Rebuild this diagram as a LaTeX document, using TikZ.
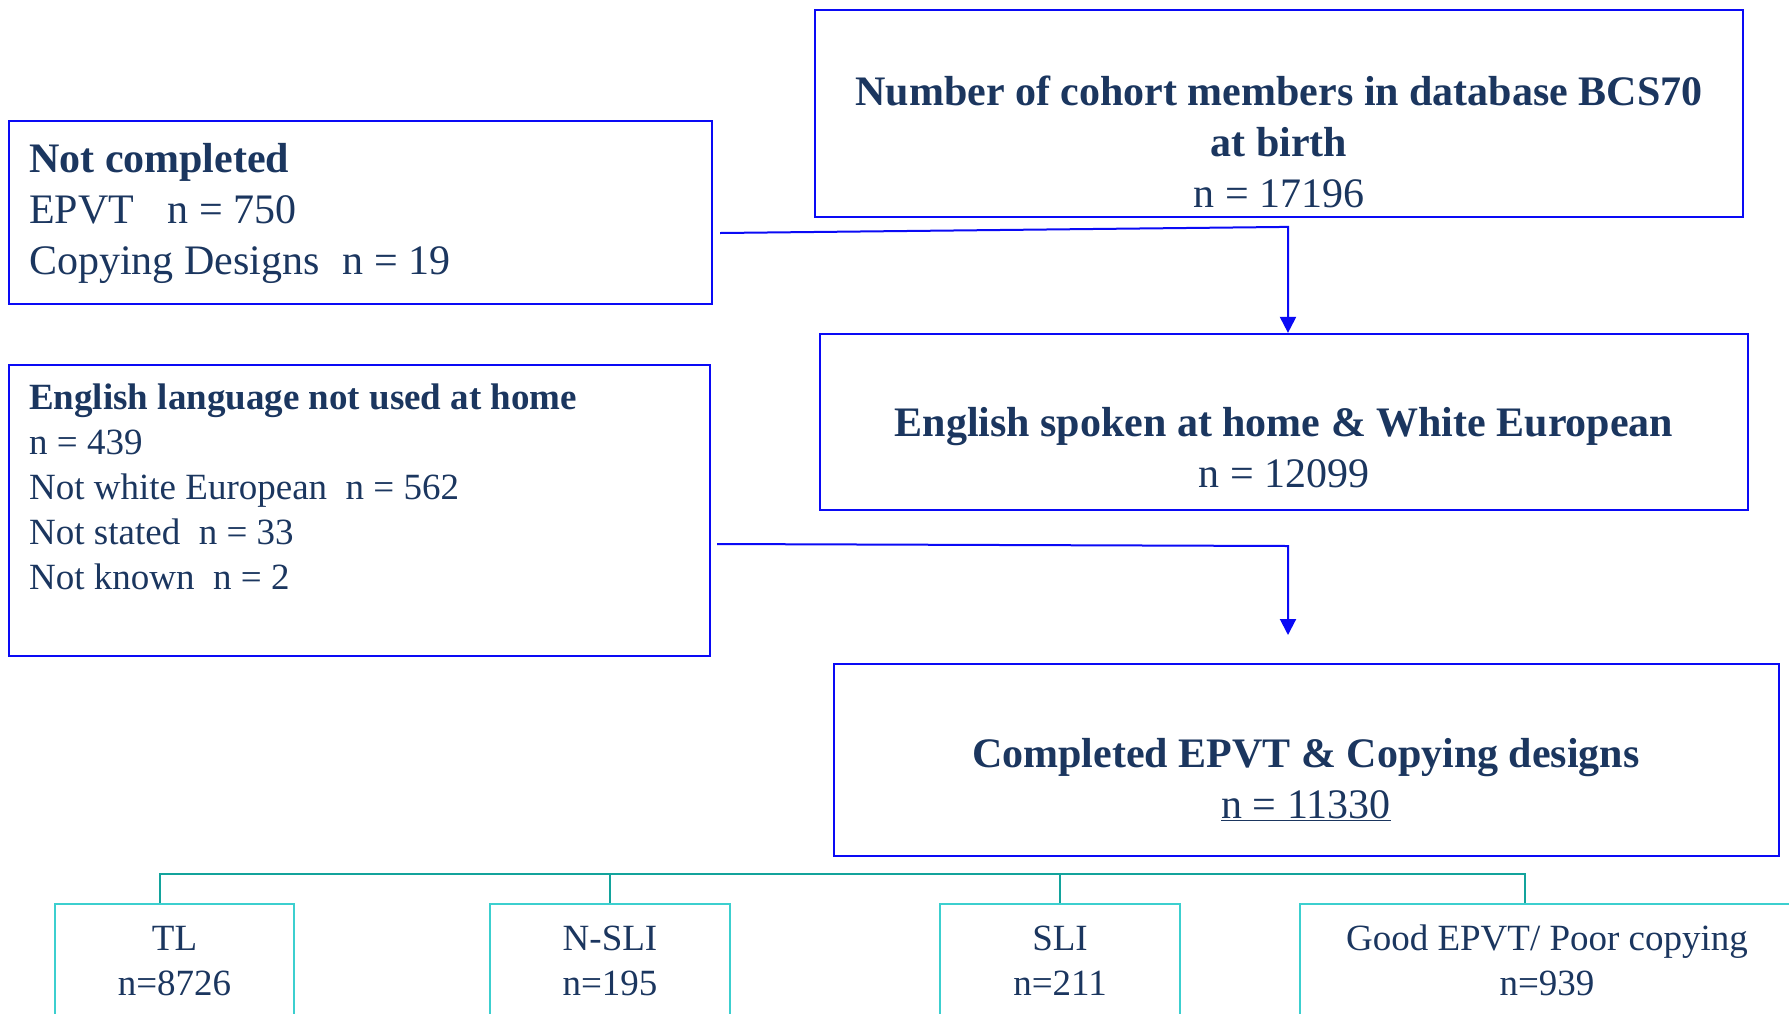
\documentclass[tikz,border=0pt]{standalone}
\usepackage{fontspec}
\setmainfont{Liberation Serif}
\usetikzlibrary{arrows.meta}
\definecolor{navy}{HTML}{1B365F}
\definecolor{boxblue}{HTML}{0A0AF5}
\definecolor{aqua}{HTML}{3CCFCF}
\definecolor{treeteal}{HTML}{13A39C}
\tikzset{
    box/.style={draw=boxblue, line width=2.2pt, inner sep=0pt},
    leaf/.style={draw=aqua, line width=2pt, inner sep=0pt, minimum height=136pt},
    flow/.style={draw=boxblue, line width=2pt, -{Triangle[width=16pt,length=16pt]}},
    tree/.style={draw=treeteal, line width=2pt},
    big/.style={text=navy, inner sep=0pt, text depth=0pt, font=\fontsize{42}{51}\selectfont},
    small/.style={text=navy, inner sep=0pt, text depth=0pt, font=\fontsize{37}{45}\selectfont},
}
\begin{document}
\begin{tikzpicture}[x=1pt,y=-1pt]
    \useasboundingbox (0,0) rectangle (1789,1013);
    \clip (0,0) rectangle (1789,1013);
    % blue boxes
    \node[box, minimum width=928pt, minimum height=207pt] (birth) at (1279,113.5) {};
    \node[box, minimum width=703pt, minimum height=183pt] (nc) at (360.5,212.5) {};
    \node[box, minimum width=928pt, minimum height=176pt] (spoken) at (1284,422) {};
    \node[box, minimum width=701pt, minimum height=291pt] (nl) at (359.5,510.5) {};
    \node[box, minimum width=945pt, minimum height=192pt] (done) at (1306.5,760) {};
    % box texts
    \node[big, anchor=south, align=center] (birth-txt) at (1279,208)
        {\textbf{Number of cohort members in database BCS70}\\\textbf{at birth}\\n = 17196};
    \node[big, anchor=south west, align=left] (nc-txt) at (29,275)
        {\textbf{Not completed}\\EPVT\hspace{0.8em}n = 750\\Copying Designs\hspace{0.55em}n = 19};
    \node[big, anchor=south, align=center] (spoken-txt) at (1284,488)
        {\textbf{English spoken at home \& White European}\\n = 12099};
    \node[small, anchor=south west, align=left] (nl-txt) at (29,590)
        {\textbf{English language not used at home}\\n = 439\\Not white European\hspace{0.5em}n = 562\\Not stated\hspace{0.5em}n = 33\\Not known\hspace{0.5em}n = 2};
    \node[big, anchor=south, align=center] (done-txt) at (1306,819)
        {\textbf{Completed EPVT \& Copying designs}\\\underline{n = 11330}};
    % groups
    \node[leaf, minimum width=239pt] (tl) at (174.5,972) {};
    \node[leaf, minimum width=240pt] (ns) at (610,972) {};
    \node[leaf, minimum width=240pt] (sli) at (1060,972) {};
    \node[leaf, minimum width=494pt] (ge) at (1547,972) {};
    \node[small, anchor=south, align=center] (tl-txt) at (174.5,996) {TL\\n=8726};
    \node[small, anchor=south, align=center] (ns-txt) at (610,996) {N-SLI\\n=195};
    \node[small, anchor=south, align=center] (sli-txt) at (1060,996) {SLI\\n=211};
    \node[small, anchor=south, align=center] (ge-txt) at (1547,996) {Good EPVT/ Poor copying\\n=939};
    % arrows
    \coordinate (gap) at (1288,635);
    \draw[flow] ([shift={(7,20.5)}]nc.east) -- ([shift={(4,-106)}]spoken.north) -- ([xshift=4pt]spoken.north);
    \draw[flow] ([shift={(6,33.5)}]nl.east) -- ([shift={(0,-89)}]gap) -- (gap);
    % tree lines
    \draw[tree] ([xshift=-14.5pt]tl.north) -- ++(0,-29) -| ([xshift=-22pt]ge.north);
    \draw[tree] (ns.north) -- ++(0,-29);
    \draw[tree] (sli.north) -- ++(0,-29);
\end{tikzpicture}
\end{document}
